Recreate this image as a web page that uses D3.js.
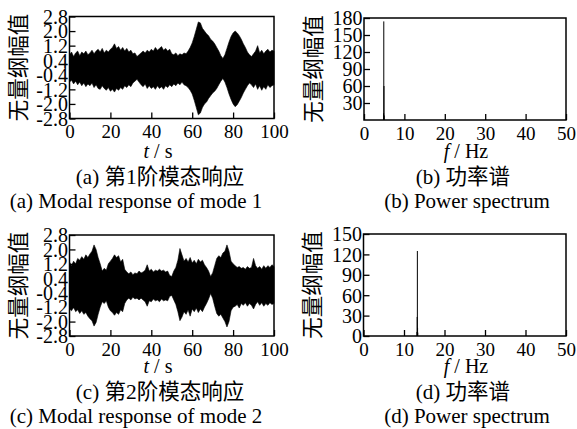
<!DOCTYPE html>
<html>
<head>
<meta charset="utf-8">
<script src="https://cdn.jsdelivr.net/npm/d3@7"></script>
<style>
  body { margin: 0; background: #fff; }
  text { font-family: "Liberation Serif", "Noto Sans CJK SC", serif; fill: #000; }
</style>
</head>
<body>
<script>
// time axis, 0..100 s, one sample per second (envelope of the modal response)
var timeSec = d3.range(0, 101);

// mode 1 envelope (upper / lower)
var mode1Up = [0.7,0.85,0.6,0.8,0.9,0.65,0.85,0.75,0.9,0.7,0.8,
  0.95,0.75,0.9,1.0,0.85,1.05,0.8,0.95,0.85,1.0,
  1.1,1.3,1.05,1.15,0.95,1.1,0.9,1.05,0.85,0.95,
  0.75,0.8,0.6,0.7,0.8,0.9,0.8,0.95,0.85,1.0,
  0.9,1.1,0.95,1.05,1.15,0.95,1.05,0.9,1.0,0.75,
  0.7,0.8,0.65,0.75,0.7,0.8,0.75,0.9,1.1,1.35,
  1.7,2.1,2.5,2.45,2.15,2.0,1.85,1.75,1.55,1.45,
  1.3,1.1,0.9,0.65,0.5,0.7,1.05,1.4,1.7,1.9,
  2.0,1.9,1.75,1.55,1.3,1.1,0.85,0.7,0.6,0.75,
  0.9,1.2,0.8,0.95,0.75,0.9,1.0,0.85,0.95,0.9];
var mode1Lo = [-0.8,-0.7,-0.9,-0.75,-0.95,-0.8,-1.0,-0.85,-1.05,-0.9,-1.0,
  -0.85,-1.1,-0.95,-1.15,-1.2,-1.0,-1.15,-1.25,-1.1,-1.3,
  -1.2,-1.35,-1.15,-1.25,-1.1,-1.2,-1.0,-1.1,-0.95,-1.05,
  -0.85,-0.75,-0.65,-0.8,-0.95,-1.05,-0.9,-1.15,-1.0,-1.15,
  -1.05,-1.2,-1.0,-1.15,-1.05,-1.2,-1.0,-1.1,-0.95,-1.05,
  -0.9,-1.0,-0.85,-0.95,-0.8,-0.95,-1.0,-1.1,-1.25,-1.45,
  -1.8,-2.2,-2.6,-2.5,-2.2,-2.0,-1.9,-1.7,-1.55,-1.4,
  -1.3,-1.15,-0.95,-0.75,-0.6,-0.8,-1.1,-1.45,-1.75,-2.0,
  -2.15,-2.05,-1.85,-1.65,-1.4,-1.2,-1.0,-0.85,-0.95,-1.1,
  -0.9,-1.2,-1.0,-1.25,-1.05,-1.2,-0.95,-1.1,-1.0,-0.95];

// mode 2 envelope
var mode2Up = [1.3,1.1,1.35,1.2,1.5,1.4,1.6,1.45,1.7,1.55,1.75,
  1.9,2.25,2.0,1.55,1.2,0.8,0.95,0.85,1.2,1.35,
  1.5,1.7,1.55,1.65,1.3,1.45,0.9,0.75,0.65,0.75,
  0.6,0.7,0.65,0.8,0.7,0.75,0.85,1.15,0.8,0.9,
  0.75,0.85,0.8,0.9,0.8,0.85,0.75,0.8,0.55,0.5,
  0.8,1.0,1.4,2.05,1.7,1.35,1.5,1.3,1.55,1.25,
  1.4,1.2,1.45,1.3,1.4,1.15,1.0,0.8,0.5,0.7,
  1.1,1.5,1.65,1.55,1.8,1.9,2.25,1.9,1.35,1.2,
  1.1,1.0,1.05,0.95,1.0,0.9,1.05,0.95,1.0,1.5,
  1.1,0.95,1.05,0.9,1.1,0.95,1.1,1.0,1.15,1.05];
var mode2Lo = [-1.3,-1.4,-1.2,-1.45,-1.35,-1.55,-1.4,-1.6,-1.5,-1.7,-1.85,
  -1.95,-2.25,-2.05,-1.6,-1.2,-0.9,-1.0,-0.85,-1.2,-1.4,
  -1.5,-1.65,-1.5,-1.6,-1.35,-1.45,-1.0,-0.8,-0.7,-0.8,
  -0.65,-0.75,-0.7,-0.8,-0.7,-0.8,-0.9,-1.15,-0.85,-0.9,
  -0.75,-0.85,-0.8,-0.9,-0.75,-0.85,-0.8,-0.85,-0.6,-0.55,
  -0.8,-1.05,-1.45,-1.95,-1.75,-1.45,-1.6,-1.35,-1.7,-1.3,
  -1.45,-1.25,-1.5,-1.3,-1.45,-1.2,-1.0,-0.75,-0.45,-0.7,
  -1.15,-1.55,-1.7,-1.6,-1.8,-2.0,-2.3,-2.0,-1.4,-1.2,
  -1.15,-1.05,-1.25,-1.0,-1.1,-0.95,-1.15,-1.0,-1.1,-1.3,
  -1.05,-0.9,-1.1,-0.95,-1.15,-1.0,-1.1,-0.95,-1.05,-1.0];

// power spectrum peaks (Hz, value)
var spec1Freq = [4.85, 4.9, 4.95, 5.0];
var spec1Val  = [12, 174, 60, 8];
var spec2Freq = [13.2, 13.25, 13.3, 13.35, 13.4];
var spec2Val  = [6, 28, 125, 12, 5];

// tick labels
var ampTicks = [2.8, 2.0, 1.2, 0.4, -0.4, -1.2, -2.0, -2.8];
var timeTicks = [0, 20, 40, 60, 80, 100];
var freqTicks = [0, 10, 20, 30, 40, 50];
var spec1Ticks = [180, 150, 120, 90, 60, 30];
var spec2Ticks = [150, 120, 90, 60, 30, 0];

var yTitle = "无量纲幅值";

var svg = d3.select("body").append("svg")
    .attr("width", 577)
    .attr("height", 429);

function fmt(d){
  // hyphen style minus, one decimal
  return (d < 0 ? "-" : "") + Math.abs(d).toFixed(1);
}

function frame(box){
  svg.append("rect")
    .attr("x", box.x0).attr("y", box.y0)
    .attr("width", box.x1 - box.x0).attr("height", box.y1 - box.y0)
    .attr("fill", "none").attr("stroke", "#000").attr("stroke-width", 1.5);
}

function axes(box, x, y, xt, yt, yfmt){
  // inner ticks, labels outside
  var gx = svg.append("g").attr("transform", "translate(0," + box.y1 + ")")
      .call(d3.axisBottom(x).tickValues(xt).tickSize(-6));
  var gy = svg.append("g").attr("transform", "translate(" + box.x0 + ",0)")
      .call(d3.axisLeft(y).tickValues(yt).tickSize(-6).tickFormat(yfmt));
  [gx, gy].forEach(function(g){
    g.select(".domain").remove();
    g.selectAll("line").attr("stroke", "#000").attr("stroke-width", 1.3);
    g.selectAll("text").attr("font-family", "Liberation Serif").attr("fill", "#000");
  });
  gx.selectAll("text").attr("font-size", 19).attr("dy", null).attr("y", 19.5);
  gy.selectAll("text").attr("font-size", 20).attr("dy", "0.34em").attr("x", -1.5);

  svg.append("text")
    .attr("transform", "translate(" + (box.x0 - 51) + "," + ((box.y0 + box.y1) / 2) + ") rotate(-90)")
    .attr("text-anchor", "middle")
    .attr("dy", "0.35em")
    .attr("font-family", "Noto Sans CJK SC")
    .attr("font-size", 21.5)
    .text(yTitle);
}

function captions(cx, by, varName, unit, cnTag, cnText, enLine){
  var t = svg.append("text").attr("x", cx.title).attr("y", by).attr("text-anchor", "middle").attr("font-size", 20);
  t.append("tspan").attr("font-style", "italic").text(varName);
  t.append("tspan").text(" / " + unit);
  var c = svg.append("text").attr("x", cx.cn).attr("y", by + 26).attr("text-anchor", "middle").attr("font-size", 21);
  c.append("tspan").text(cnTag + " ");
  c.append("tspan").attr("font-size", 21.5).text(cnText);
  svg.append("text").attr("x", cx.en).attr("y", by + 49.5).attr("text-anchor", "middle")
    .attr("font-size", 21).text(enLine);
}

function makeSignalGraph(box, up, lo){
  var x = d3.scaleLinear().domain([0, 100]).range([box.x0, box.x1]);
  var y = d3.scaleLinear().domain([-2.8, 2.8]).range([box.y1, box.y0]);
  var area = d3.area()
      .x(function(d, i){ return x(timeSec[i]); })
      .y0(function(d, i){ return y(lo[i]); })
      .y1(function(d){ return y(d); });
  svg.append("path").datum(up)
    .attr("d", area)
    .attr("fill", "#000").attr("stroke", "#000").attr("stroke-width", 0.6);
  axes(box, x, y, timeTicks, ampTicks, fmt);
  frame(box);
}

function makeSpectrumGraph(box, ymax, freqs, vals, yt){
  var x = d3.scaleLinear().domain([0, 50]).range([box.x0, box.x1]);
  var y = d3.scaleLinear().domain([0, ymax]).range([box.y1, box.y0]);
  svg.selectAll(null).data(freqs).enter().append("line")
    .attr("x1", function(d){ return x(d); })
    .attr("x2", function(d){ return x(d); })
    .attr("y1", y(0))
    .attr("y2", function(d, i){ return y(vals[i]); })
    .attr("stroke", "#000").attr("stroke-width", 1);
  axes(box, x, y, freqTicks, yt, d3.format("d"));
  frame(box);
}

makeSignalGraph({x0: 69.5, x1: 274, y0: 16.5, y1: 118.5}, mode1Up, mode1Lo);
makeSpectrumGraph({x0: 364, x1: 566, y0: 18, y1: 120}, 180, spec1Freq, spec1Val, spec1Ticks);
makeSignalGraph({x0: 69.5, x1: 274, y0: 235, y1: 336}, mode2Up, mode2Lo);
makeSpectrumGraph({x0: 363.5, x1: 566, y0: 234, y1: 336}, 150, spec2Freq, spec2Val, spec2Ticks);

captions({title: 158, cn: 160, en: 136}, 158, "t", "s", "(a)", "第1阶模态响应", "(a) Modal response of mode 1");
captions({title: 466, cn: 463, en: 467}, 158, "f", "Hz", "(b)", "功率谱", "(b) Power spectrum");
captions({title: 158, cn: 160, en: 136}, 373, "t", "s", "(c)", "第2阶模态响应", "(c) Modal response of mode 2");
captions({title: 466, cn: 463, en: 467}, 373, "f", "Hz", "(d)", "功率谱", "(d) Power spectrum");
</script>
</body>
</html>
